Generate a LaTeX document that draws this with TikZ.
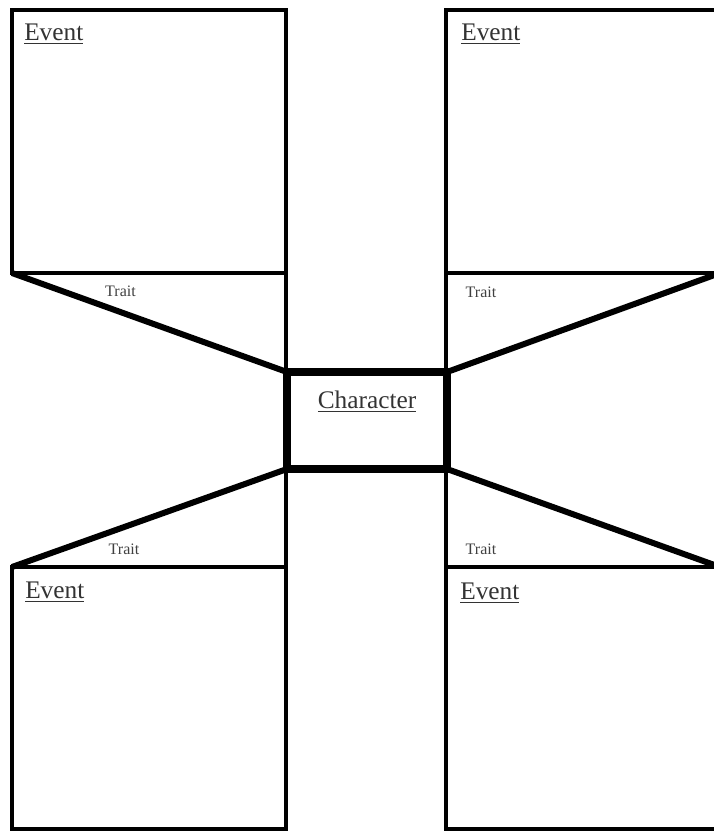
\documentclass[tikz,border=0pt]{standalone}
\usepackage{fontspec}
\setmainfont{Liberation Serif}
\usetikzlibrary{positioning}

\begin{document}
\begin{tikzpicture}[
    x=0.75pt, y=-0.75pt,
    evt/.style={draw, line width=3pt, minimum width=205.5pt,
                minimum height=197.25pt, inner sep=0pt, outer sep=0pt},
    chr/.style={draw, line width=5.5pt, minimum width=120pt,
                minimum height=72.75pt, inner sep=0pt, outer sep=0pt},
    ttl/.style={anchor=north west, inner sep=0pt, text=black!80,
                font=\fontsize{19}{21}\selectfont},
    lbl/.style={inner sep=0pt, text=black!75,
                font=\fontsize{12}{14}\selectfont},
    tri/.style={line width=4.5pt},
  ]
  \useasboundingbox (0,0) rectangle (714,832);

  % ============ Character ============
  \node[chr] (chr) at (367,420.5) {};

  % ============ Events ============
  \node[evt] (evtl) at (149,141.5) {};
  \node[evt] (evtr) at (583,141.5) {};
  \node[evt, minimum height=196.5pt] (evbl) at (149,698) {};
  \node[evt, minimum height=196.5pt] (evbr) at (583,698) {};

  % ============ Trait wedges ============
  \draw[tri] (evtl.south west) -- (chr.north west);
  \draw[tri] (evtr.south east) -- (chr.north east);
  \draw[tri] (evbl.north west) -- (chr.south west);
  \draw[tri] (evbr.north east) -- (chr.south east);
  \draw[line width=3.5pt]
    (evtl.south east) -- (evtl.south east |- chr.north west)
    (evtr.south west) -- (evtr.south west |- chr.north east)
    (evbl.north east) -- (evbl.north east |- chr.south west)
    (evbr.north west) -- (evbr.north west |- chr.south east);

  % redraw box on top of the wedges
  \node[chr] at (chr) {};

  % ============ Texts ============
  \node[ttl, anchor=north] (chrtxt) at (367,391) {\underline{Character}};
  \node[ttl] (evtltxt) at (24,24) {\underline{Event}};
  \node[ttl] (evtrtxt) at (461,24) {\underline{Event}};
  \node[ttl] (evbltxt) at (25,582) {\underline{Event}};
  \node[ttl] (evbrtxt) at (460,583) {\underline{Event}};

  \node[lbl] (trtl) at (120.5,291.5) {Trait};
  \node[lbl] (trtr) at (481,292) {Trait};
  \node[lbl] (trbl) at (124,549) {Trait};
  \node[lbl] (trbr) at (481,549.5) {Trait};

\end{tikzpicture}
\end{document}
